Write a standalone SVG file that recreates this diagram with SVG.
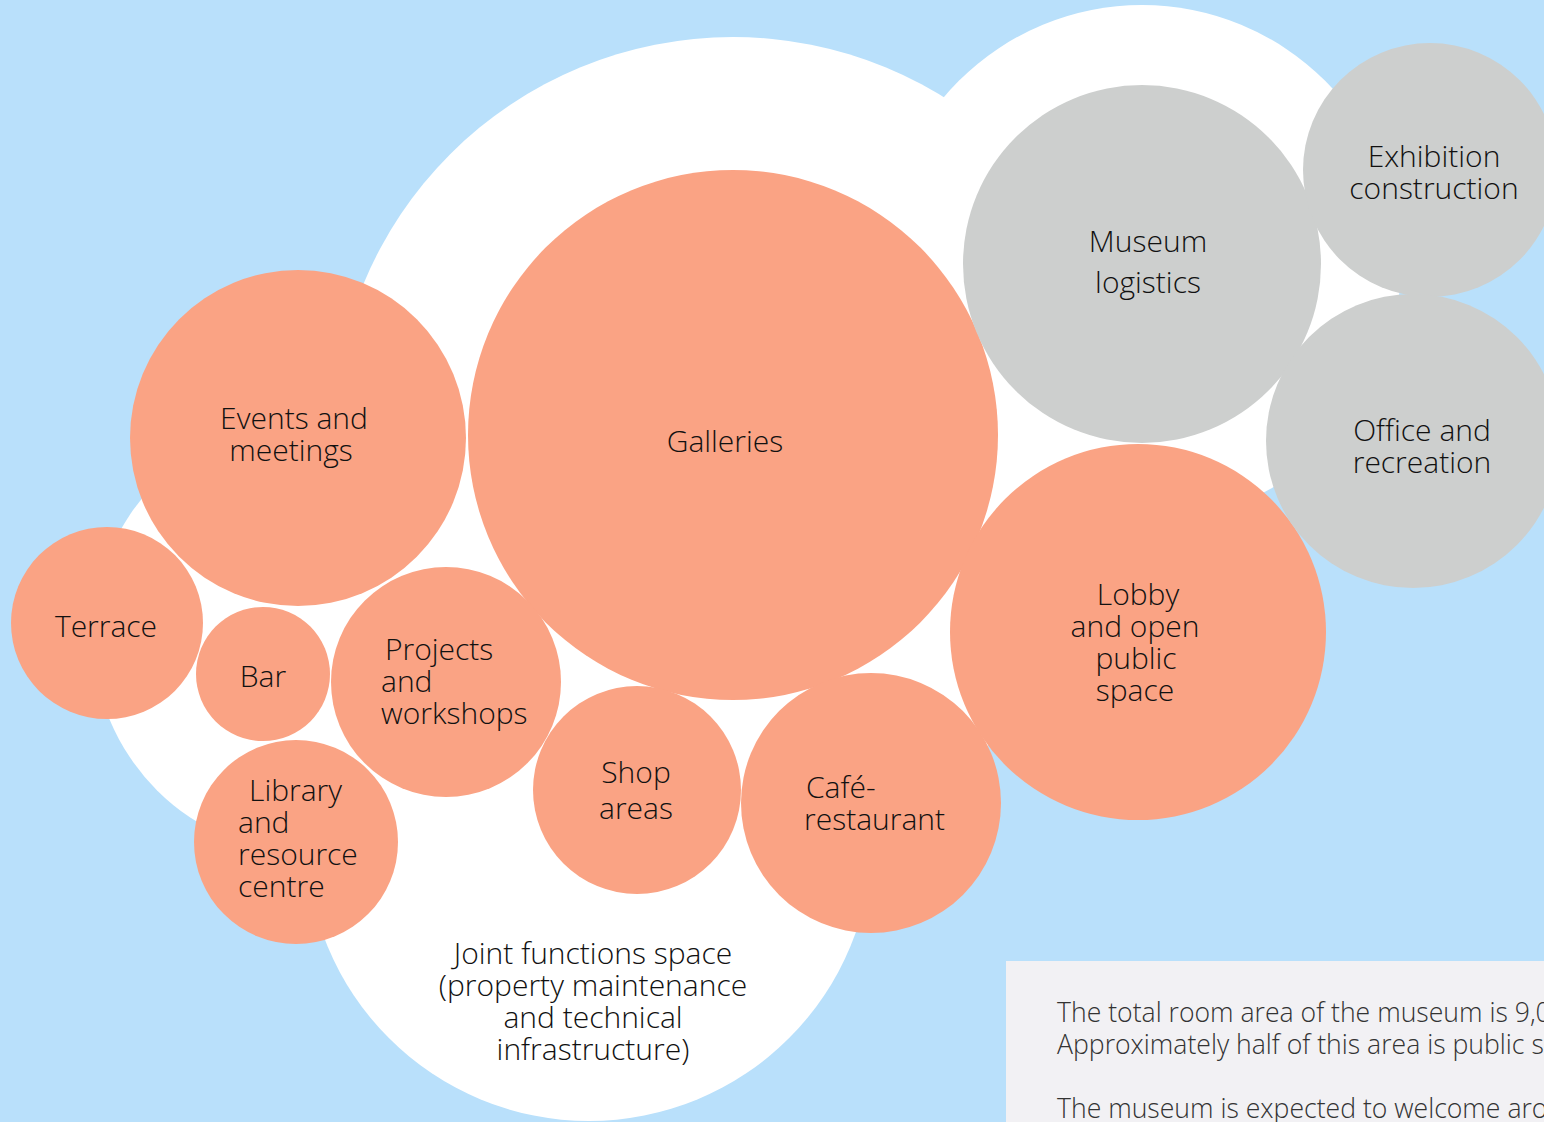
<svg xmlns="http://www.w3.org/2000/svg" width="1544" height="1122" viewBox="0 0 1544 1122">
  <style>
    .bg { fill: #B9E0FB; }
    .white { fill: #FFFFFF; }
    .room { fill: #FAA384; }
    .support { fill: #CDCFCE; }
    .lbl { font-family: "Open Sans", "Liberation Sans", sans-serif; font-weight: 300; font-size: 30px; fill: #111111; }
    .mid { text-anchor: middle; }
    .box { fill: #F2F1F4; }
    .note { font-family: "Open Sans", "Liberation Sans", sans-serif; font-weight: 300; font-size: 26.6px; fill: #333333; }
  </style>
  <rect class="bg" x="0" y="0" width="1544" height="1122"/>
  <g id="area-outline">
    <circle class="white" cx="733" cy="437" r="400"/>
    <circle class="white" cx="1142" cy="264" r="259"/>
    <circle class="white" cx="311" cy="636" r="218"/>
    <circle class="white" cx="589" cy="838" r="283"/>
  </g>
  <g id="joint-functions">
    <text class="lbl mid" x="593" y="964">Joint functions space</text>
    <text class="lbl mid" x="593" y="996">(property maintenance</text>
    <text class="lbl mid" x="593" y="1028">and technical</text>
    <text class="lbl mid" x="593" y="1060">infrastructure)</text>
  </g>
  <g id="galleries">
    <circle class="room" cx="733" cy="435" r="265"/>
    <text class="lbl mid" x="725" y="452">Galleries</text>
  </g>
  <g id="events">
    <circle class="room" cx="298" cy="438" r="168"/>
    <text class="lbl mid" x="294" y="429">Events and</text>
    <text class="lbl mid" x="291" y="461">meetings</text>
  </g>
  <g id="terrace">
    <circle class="room" cx="107" cy="623" r="96"/>
    <text class="lbl mid" x="106" y="637">Terrace</text>
  </g>
  <g id="bar">
    <circle class="room" cx="263" cy="674" r="67"/>
    <text class="lbl mid" x="263" y="687">Bar</text>
  </g>
  <g id="projects">
    <circle class="room" cx="446" cy="682" r="115"/>
    <text class="lbl" x="385" y="660">Projects</text>
    <text class="lbl" x="381" y="692">and</text>
    <text class="lbl" x="381" y="724">workshops</text>
  </g>
  <g id="library">
    <circle class="room" cx="296" cy="842" r="102"/>
    <text class="lbl" x="249" y="801">Library</text>
    <text class="lbl" x="238" y="833">and</text>
    <text class="lbl" x="238" y="865">resource</text>
    <text class="lbl" x="238" y="897">centre</text>
  </g>
  <g id="shop">
    <circle class="room" cx="637" cy="790" r="104"/>
    <text class="lbl mid" x="636" y="783">Shop</text>
    <text class="lbl mid" x="636" y="819">areas</text>
  </g>
  <g id="cafe">
    <circle class="room" cx="871" cy="803" r="130"/>
    <text class="lbl" x="806" y="798">Café-</text>
    <text class="lbl" x="804" y="830">restaurant</text>
  </g>
  <g id="lobby">
    <circle class="room" cx="1138" cy="632" r="188"/>
    <text class="lbl mid" x="1138" y="605">Lobby</text>
    <text class="lbl mid" x="1135" y="637">and open</text>
    <text class="lbl mid" x="1136" y="669">public</text>
    <text class="lbl mid" x="1135" y="701">space</text>
  </g>
  <g id="museum-logistics">
    <circle class="support" cx="1142" cy="264" r="179"/>
    <text class="lbl mid" x="1148" y="252">Museum</text>
    <text class="lbl mid" x="1148" y="293">logistics</text>
  </g>
  <g id="exhibition-construction">
    <circle class="support" cx="1430" cy="170" r="127"/>
    <text class="lbl mid" x="1434" y="167">Exhibition</text>
    <text class="lbl mid" x="1434" y="199">construction</text>
  </g>
  <g id="office">
    <circle class="support" cx="1413" cy="441" r="147"/>
    <text class="lbl mid" x="1422" y="441">Office and</text>
    <text class="lbl mid" x="1422" y="473">recreation</text>
  </g>
  <g id="info-box">
    <rect class="box" x="1006" y="961" width="560" height="180"/>
    <text class="note" x="1057" y="1022">The total room area of the museum is 9,0</text>
    <text class="note" x="1057" y="1054">Approximately half of this area is public s</text>
    <text class="note" x="1057" y="1118">The museum is expected to welcome aro</text>
  </g>
</svg>
